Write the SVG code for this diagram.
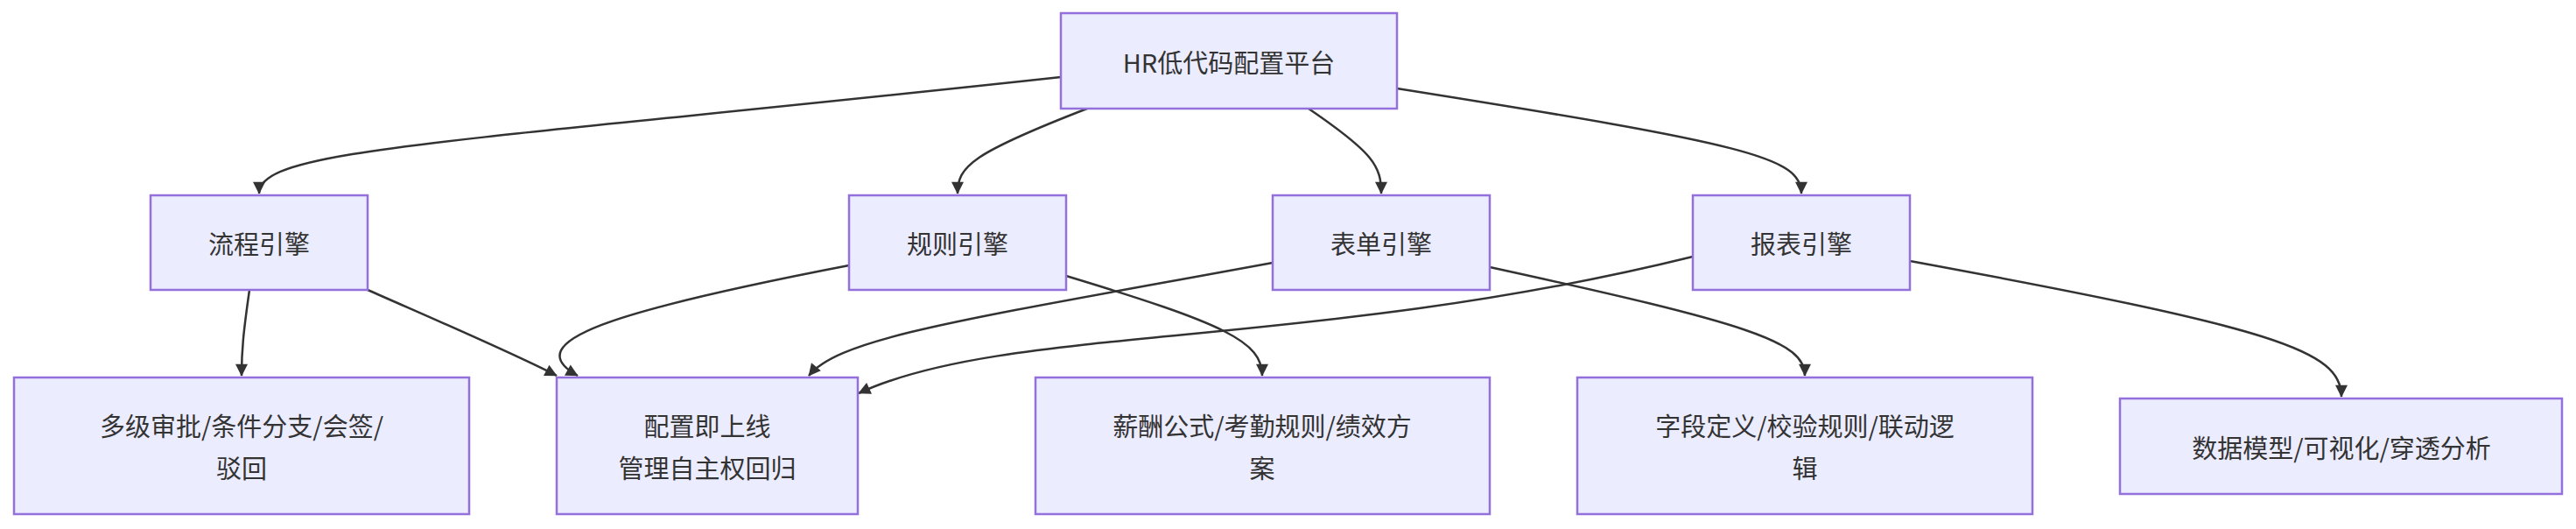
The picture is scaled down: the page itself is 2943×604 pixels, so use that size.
<svg xmlns="http://www.w3.org/2000/svg" width="2943" height="604" viewBox="0 0 2943 604">
<style>
.n rect{fill:#ECECFF;stroke:#9370DB;stroke-width:2.5}
.n text{font-family:"Noto Sans CJK SC","Liberation Sans",sans-serif;font-size:29px;fill:#333;text-anchor:middle;dominant-baseline:central}
.e path{fill:none;stroke:#333;stroke-width:2.5;marker-end:url(#a)}
</style>
<defs><marker id="a" viewBox="0 0 10 10" refX="9" refY="5" markerWidth="7" markerHeight="7" orient="auto" markerUnits="userSpaceOnUse" style="overflow:visible"><path d="M0,0L10,5L0,10z" fill="#333" transform="scale(2)" transform-origin="10 5"/></marker></defs>
<rect width="2943" height="604" fill="#fff"/>
<g class="e">
<path d="M1212,88 C500,165 296,170 296,221"/>
<path d="M1242,124 C1110,175 1094,190 1094,221"/>
<path d="M1495,124 C1570,175 1578,190 1578,221"/>
<path d="M1596,101 C2000,165 2058,180 2058,221"/>
<path d="M285,331 C278,380 276,400 276,429"/>
<path d="M420,331 C520,375 590,405 636,429"/>
<path d="M970,303 C700,355 590,390 660,429"/>
<path d="M1454,300 C1100,365 960,385 924,429"/>
<path d="M1934,293 C1500,400 1150,370 981,449"/>
<path d="M1218,315 C1400,370 1442,390 1442,429"/>
<path d="M1702,305 C2000,370 2062,390 2062,429"/>
<path d="M2182,298 C2600,375 2675,400 2675,453"/>
</g>
<g id="top" class="n"><rect x="1212" y="15" width="384" height="109"/><text x="1404" y="70">HR低代码配置平台</text></g>
<g id="liucheng" class="n"><rect x="172" y="223" width="248" height="108"/><text x="296" y="277">流程引擎</text></g>
<g id="guize" class="n"><rect x="970" y="223" width="248" height="108"/><text x="1094" y="277">规则引擎</text></g>
<g id="biaodan" class="n"><rect x="1454" y="223" width="248" height="108"/><text x="1578" y="277">表单引擎</text></g>
<g id="baobiao" class="n"><rect x="1934" y="223" width="248" height="108"/><text x="2058" y="277">报表引擎</text></g>
<g id="duoji" class="n"><rect x="16" y="431" width="520" height="156"/><text x="276" y="485">多级审批/条件分支/会签/</text><text x="276" y="533">驳回</text></g>
<g id="peizhi" class="n"><rect x="636" y="431" width="344" height="156"/><text x="808" y="485">配置即上线</text><text x="808" y="533">管理自主权回归</text></g>
<g id="xinchou" class="n"><rect x="1183" y="431" width="519" height="156"/><text x="1442" y="485">薪酬公式/考勤规则/绩效方</text><text x="1442" y="533">案</text></g>
<g id="ziduan" class="n"><rect x="1802" y="431" width="520" height="156"/><text x="2062" y="485">字段定义/校验规则/联动逻</text><text x="2062" y="533">辑</text></g>
<g id="shuju" class="n"><rect x="2422" y="455" width="505" height="109"/><text x="2675" y="510">数据模型/可视化/穿透分析</text></g>
</svg>
